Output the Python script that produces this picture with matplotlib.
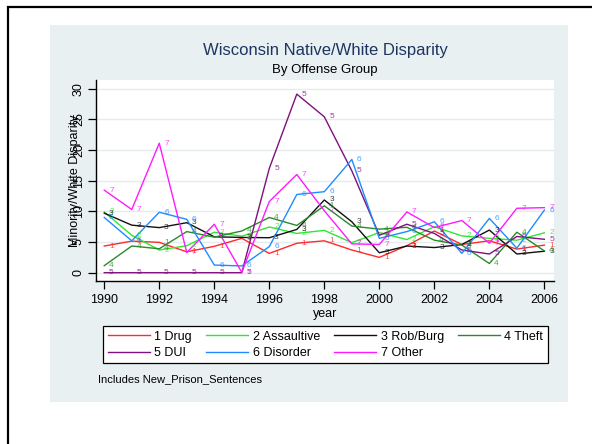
import matplotlib
matplotlib.use("Agg")
import matplotlib.pyplot as plt
from matplotlib.patches import Rectangle
from matplotlib.lines import Line2D

plt.rcParams['font.family'] = ['Liberation Sans', 'DejaVu Sans']

years = list(range(1990, 2007))

# disparity by offense group
drug = [4.35, 5.15, 4.95, 3.4, 4.3, 5.6, 3.15, 4.8, 5.2, 3.7, 2.5, 4.4, 6.8, 4.6, 5.2, 3.85, 4.5]
assaultive = [9.9, 6.1, 3.7, 4.4, 6.6, 5.95, 7.45, 6.4, 6.9, 4.9, 6.55, 5.4, 7.5, 6.0, 5.6, 5.3, 6.5]
robburg = [9.7, 7.75, 7.35, 8.15, 5.85, 5.75, 5.7, 7.05, 11.85, 8.3, 3.25, 4.35, 4.1, 4.6, 6.95, 3.05, 3.5]
theft = [1.15, 4.35, 3.9, 6.7, 5.8, 6.8, 9.0, 7.7, 10.9, 7.6, 7.1, 7.4, 5.3, 4.5, 1.5, 6.6, 3.55]
dui = [0, 0, 0, 0, 0, 0, 17.0, 29.1, 25.4, 16.6, 6.1, 7.9, 6.4, 3.7, 3.05, 5.9, 5.45]
disorder = [9.0, 5.2, 9.85, 8.7, 1.25, 1.1, 4.25, 12.75, 13.2, 18.45, 5.6, 6.7, 8.3, 3.15, 8.85, 4.0, 10.2]
other = [13.45, 10.3, 21.1, 3.3, 7.9, 0.05, 11.6, 16.0, 10.1, 4.7, 4.6, 9.9, 7.35, 8.5, 4.8, 10.5, 10.6]

series = [drug, assaultive, robburg, theft, dui, disorder, other]
names = ["1 Drug", "2 Assaultive", "3 Rob/Burg", "4 Theft", "5 DUI", "6 Disorder", "7 Other"]
colors = ["#ff2a2a", "#2ee82e", "#111111", "#2a8a2a", "#7f107f", "#1e8cff", "#ff1aff"]

fig = plt.figure(figsize=(5.92, 4.44), dpi=100)
fig.patch.set_facecolor("white")

W, H = 592.0, 444.0
# outer black frame and light panel
fig.patches.append(Rectangle((8 / W, -0.05), 1.0, 1.05 - 7 / H, transform=fig.transFigure,
                             fill=False, edgecolor="black", linewidth=1.6, zorder=-10))
fig.patches.append(Rectangle((50 / W, 1 - 402 / H), 518 / W, 377 / H, transform=fig.transFigure,
                             facecolor="#e8f0f2", edgecolor="none", zorder=-10))

ax = fig.add_axes([96 / W, 1 - 281 / H, 458 / W, 201 / H])
ax.set_facecolor("white")

for i, (vals, col) in enumerate(zip(series, colors)):
    ax.plot(years, vals, color=col, linewidth=1.0, label=names[i], zorder=3)
    for x, y in zip(years, vals):
        ax.annotate(str(i + 1), (x, y), xytext=(3.5, 0), textcoords="offset points",
                    ha="left", va="center", fontsize=6, color=col, alpha=0.8, zorder=4)

ax.set_xlim(1989.7, 2006.35)
ax.set_ylim(-1.35, 31.4)
ax.set_xticks(range(1990, 2007, 2))
ax.set_yticks(range(0, 31, 5))
ax.grid(axis="y", color="#e4ecef", linewidth=1.0)
ax.set_axisbelow(True)
for s in ["top", "right"]:
    ax.spines[s].set_visible(False)
ax.spines["left"].set_linewidth(1.0)
ax.spines["bottom"].set_linewidth(1.0)
ax.tick_params(axis="both", labelsize=9, length=6, width=0.9, direction="out")
ax.tick_params(axis="y", pad=2)
for lab in ax.get_yticklabels():
    lab.set_rotation(90)
    lab.set_va("center")
ax.set_xlabel("year", fontsize=9, labelpad=1)
ax.set_ylabel("Minority/White Disparity", fontsize=9, labelpad=-6)

fig.text(325 / W, 1 - 50 / H, "Wisconsin Native/White Disparity", ha="center", va="center",
         fontsize=12, color="#1e3560")
fig.text(325 / W, 1 - 70.5 / H, "By Offense Group", ha="center", va="center",
         fontsize=9.5, color="black")

# legend filled row by row: reorder for matplotlib's column-first layout
order = [0, 4, 1, 5, 2, 6, 3]
handles = [Line2D([0], [0], color=colors[k], linewidth=1.0) for k in order]
labels = [names[k] for k in order]
leg = fig.legend(handles, labels, ncol=4, loc="upper center",
                 bbox_to_anchor=(325.5 / W, 1 - 320 / H),
                 fontsize=9, frameon=True, fancybox=False, handlelength=3.4,
                 handletextpad=0.35, columnspacing=1.1, borderpad=0.35, labelspacing=0.35)
leg.get_frame().set_edgecolor("black")
leg.get_frame().set_facecolor("white")
leg.get_frame().set_alpha(1.0)
leg.get_frame().set_linewidth(0.9)

fig.text(98 / W, 1 - 379 / H, "Includes New_Prison_Sentences", ha="left", va="center",
         fontsize=8, color="black")

fig.savefig("out.png", dpi=100)
